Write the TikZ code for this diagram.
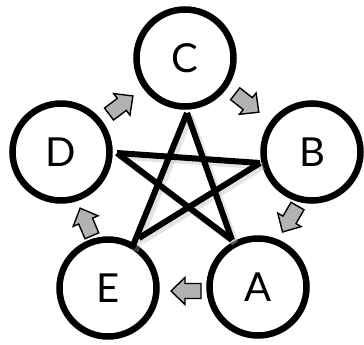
\documentclass[tikz,border=0pt]{standalone}
\usepackage{fontspec}
\setmainfont{Lato}
\usepackage{tikz}
\usetikzlibrary{
  calc,
}

\begin{document}
\begin{tikzpicture}[
  x=1pt, y=-1pt,
  station/.style={
    circle,
    draw=black,
    line width=6.5pt,
    fill=white,
    minimum size=97pt,
    inner sep=0pt,
    font=\fontsize{40}{42}\selectfont,
  },
  turn/.pic={
    \draw[black, line width=1.4pt, fill=black!30, line join=miter]
      (-15,-7.5) -- (1,-7.5) -- (1,-13.5) -- (15,0) -- (1,13.5) -- (1,7.5)
      -- (-15,7.5) -- cycle;
  },
  starline/.style={
    line width=6pt,
    draw=black,
  },
  starshadow/.style={
    line width=7pt,
    draw=black!30,
    opacity=0.35,
  },
]

\useasboundingbox (0,0) rectangle (364,345);

% =============================================================================
% Stations
% =============================================================================
\node[station] (C) at (185,58)  {C};
\node[station] (B) at (312,152) {B};
\node[station] (A) at (258,287) {A};
\node[station] (E) at (108,288) {E};
\node[station] (D) at (61,152)  {D};

% --- star points, just off the circles ---
\coordinate (sC) at (187,113);
\coordinate (sB) at (260,163);
\coordinate (sA) at (232,240);
\coordinate (sE) at (132,248);
\coordinate (sEb) at (139,238);
\coordinate (sD) at (117,153);

% =============================================================================
% Star
% =============================================================================
\draw[starshadow] ($(sC)+(3,3)$) -- ($(sE)+(3,3)$);
\draw[starshadow] ($(sC)+(3,3)$) -- ($(sA)+(3,3)$);
\draw[starshadow] ($(sD)+(3,3)$) -- ($(sB)+(3,3)$);
\draw[starshadow] ($(sB)+(3,3)$) -- ($(sEb)+(3,3)$);
\draw[starshadow] ($(sD)+(3,3)$) -- ($(sA)+(3,3)$);

\draw[starline] (sC) -- (sE);
\draw[starline] (sC) -- (sA);
\draw[starline] (sD) -- (sB);
\draw[starline] (sB) -- (sEb);
\draw[starline] (sD) -- (sA);

% =============================================================================
% Turn arrows round the ring
% =============================================================================
\pic[rotate=-38]  (CtoB) at (247,103) {turn};
\pic[rotate=-120] (BtoA) at (290,219) {turn};
\pic[rotate=180]  (AtoE) at (186,291) {turn};
\pic[rotate=113]  (EtoD) at (86,222)  {turn};
\pic[rotate=37]   (DtoC) at (121,105) {turn};

\end{tikzpicture}
\end{document}
